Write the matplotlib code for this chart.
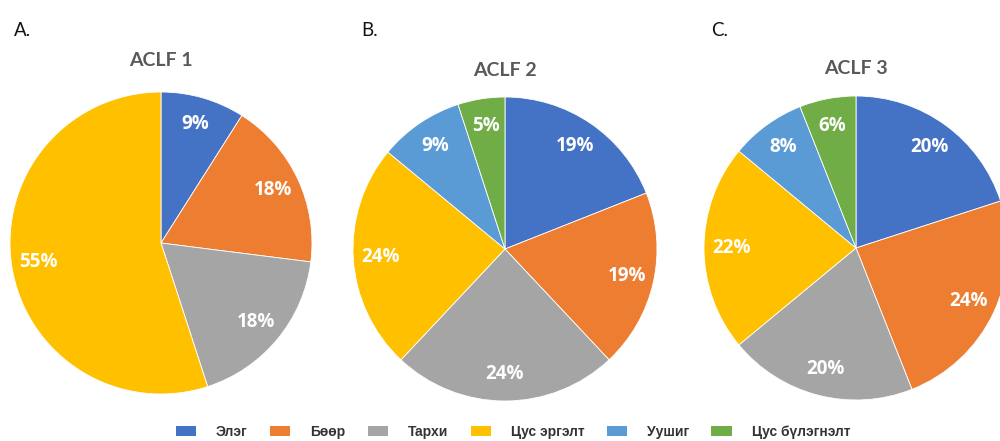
import matplotlib
matplotlib.use("Agg")
import matplotlib.pyplot as plt
from matplotlib.patches import Patch

# ангилал ба өнгө
categories = ['Элэг', 'Бөөр', 'Тархи', 'Цус эргэлт', 'Уушиг', 'Цус бүлэгнэлт']
colors = ['#4472C4', '#ED7D31', '#A5A5A5', '#FFC000', '#5B9BD5', '#70AD47']

# ACLF зэрэг бүрийн хувь
aclf1 = [9, 18, 18, 55]
aclf2 = [19, 19, 24, 24, 9, 5]
aclf3 = [20, 24, 20, 22, 8, 6]

panels = ['A.', 'B.', 'C.']
titles = ['ACLF 1', 'ACLF 2', 'ACLF 3']

W, H = 1000, 441
fig = plt.figure(figsize=(W / 100, H / 100), dpi=100)

# (төв x, төв y, радиус) пикселээр
geom = [(161, 243, 151), (505, 249, 152), (856, 248, 152)]
label_x = [22, 370, 720]
title_y = [60, 70, 68]

for i, vals in enumerate([aclf1, aclf2, aclf3]):
    cx, cy, r = geom[i]
    ax = fig.add_axes([(cx - r) / W, 1 - (cy + r) / H, 2 * r / W, 2 * r / H])
    wedges, texts, autotexts = ax.pie(
        vals, colors=colors[:len(vals)], startangle=90, counterclock=False,
        autopct='%1.0f%%', pctdistance=0.82, radius=1,
        wedgeprops=dict(edgecolor='white', linewidth=0.6),
        textprops=dict(color='white', fontsize=13.5, fontweight='bold', family='Open Sans'))
    ax.set_xlim(-1, 1)
    ax.set_ylim(-1, 1)
    ax.set_aspect('auto')
    ax.axis('off')

    fig.text(label_x[i] / W, 1 - 30 / H, panels[i], fontsize=13.5, family='Lato',
             color='#111111', ha='center', va='center')
    fig.text(cx / W, 1 - title_y[i] / H, titles[i], fontsize=14, family='Lato',
             fontweight='bold', color='#595959', ha='center', va='center')

handles = [Patch(facecolor=c, edgecolor='none') for c in colors]
fig.legend(handles, categories, loc='center', bbox_to_anchor=(513 / W, 1 - 432 / H),
           ncol=6, frameon=False, handlelength=1.45, handleheight=0.8,
           handletextpad=1.45, columnspacing=1.6, labelcolor='#333333',
           prop=dict(family='Liberation Sans', weight='bold', size=10))

fig.savefig('out.png', dpi=100)
